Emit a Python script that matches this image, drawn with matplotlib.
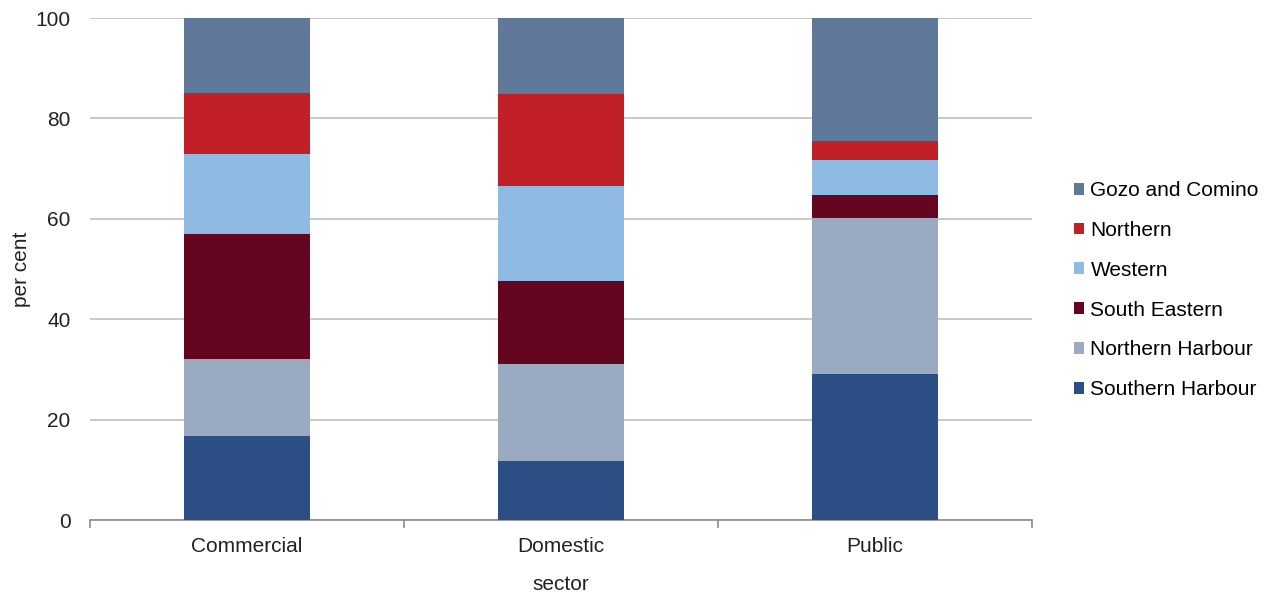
import numpy as np
import matplotlib.pyplot as plt

plt.rcParams['font.family'] = ['Liberation Sans', 'DejaVu Sans']

sectors = ["Commercial", "Domestic", "Public"]
regions = ["Southern Harbour", "Northern Harbour", "South Eastern",
           "Western", "Northern", "Gozo and Comino"]
southern_harbour = [16.8, 11.8, 29.0]
northern_harbour = [15.2, 19.2, 31.2]
south_eastern = [25.0, 16.7, 4.5]
western = [15.9, 18.8, 7.0]
northern = [12.1, 18.3, 3.7]
gozo_comino = [15.0, 15.2, 24.6]

series = [southern_harbour, northern_harbour, south_eastern,
          western, northern, gozo_comino]
colours = ["#2B4F84", "#9AABC1", "#650621", "#8EBAE3", "#C12026", "#607899"]

fig = plt.figure(figsize=(12.71, 5.96), dpi=100)
ax = fig.add_axes([90 / 1271, 76 / 596, 942 / 1271, 502 / 596])

x = np.arange(len(sectors))
bottom = np.zeros(len(sectors))
for nome, valores, cor in zip(regions, series, colours):
    ax.bar(x, valores, width=0.4, bottom=bottom, color=cor, label=nome,
           zorder=3)
    bottom += np.array(valores)

ax.set_xlim(-0.5, 2.5)
ax.set_ylim(0, 100)
ax.set_yticks(range(0, 101, 20))
ax.yaxis.grid(True, color="#BFBFBF", linewidth=1.2, zorder=0)
ax.tick_params(axis="y", length=0, labelsize=15, pad=14, colors="#222222")

ax.set_xticks(x)
ax.set_xticklabels(sectors)
ax.set_xticks([-0.5, 0.5, 1.5, 2.5], minor=True)
ax.tick_params(axis="x", which="major", length=0, labelsize=15, pad=12,
               colors="#222222")
ax.tick_params(axis="x", which="minor", length=6, color="#8C8C8C", width=1.2)

for lado in ["top", "right", "left"]:
    ax.spines[lado].set_visible(False)
ax.spines["bottom"].set_color("#8C8C8C")
ax.spines["bottom"].set_linewidth(1.2)

ax.set_xlabel("sector", fontsize=15, labelpad=14, color="#222222")
ax.set_ylabel("per cent", fontsize=15, labelpad=3, color="#222222")

handles, labels = ax.get_legend_handles_labels()
ax.legend(handles[::-1], labels[::-1], loc="center left",
          bbox_to_anchor=(1.0355, 0.458), frameon=False, fontsize=15,
          handlelength=0.5, handleheight=0.5, handletextpad=0.3,
          labelspacing=1.0, borderaxespad=0)

fig.savefig("out.png", dpi=100)
